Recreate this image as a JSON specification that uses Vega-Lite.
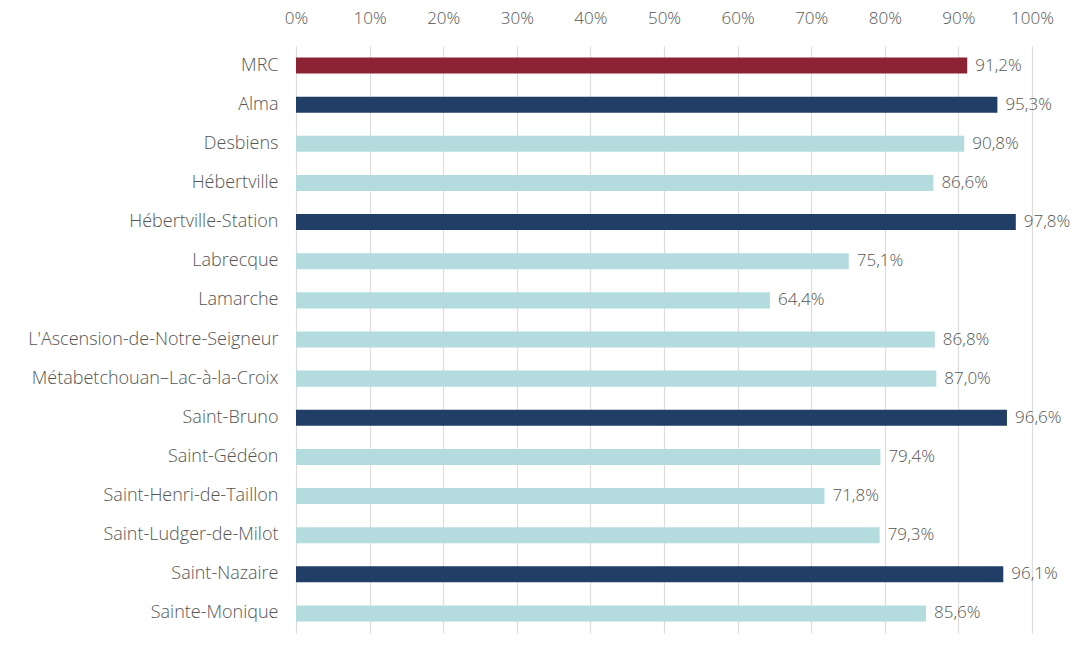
{
  "$schema": "https://vega.github.io/schema/vega-lite/v6.json",
  "width": 736,
  "height": 587,
  "autosize": {"type": "none"},
  "padding": {"left": 296, "top": 46, "right": 41, "bottom": 12},
  "background": "white",
  "config": {
    "view": {"stroke": null},
    "font": "Open Sans",
    "axis": {"labelFont": "Open Sans", "labelFontWeight": 300, "labelColor": "#555555"}
  },
  "data": {
    "values": [
      {"nom": "MRC", "taux": 0.912, "groupe": "MRC", "lib": "91,2%"},
      {"nom": "Alma", "taux": 0.953, "groupe": "haut", "lib": "95,3%"},
      {"nom": "Desbiens", "taux": 0.908, "groupe": "bas", "lib": "90,8%"},
      {"nom": "Hébertville", "taux": 0.866, "groupe": "bas", "lib": "86,6%"},
      {"nom": "Hébertville-Station", "taux": 0.978, "groupe": "haut", "lib": "97,8%"},
      {"nom": "Labrecque", "taux": 0.751, "groupe": "bas", "lib": "75,1%"},
      {"nom": "Lamarche", "taux": 0.644, "groupe": "bas", "lib": "64,4%"},
      {"nom": "L'Ascension-de-Notre-Seigneur", "taux": 0.868, "groupe": "bas", "lib": "86,8%"},
      {"nom": "Métabetchouan–Lac-à-la-Croix", "taux": 0.870, "groupe": "bas", "lib": "87,0%"},
      {"nom": "Saint-Bruno", "taux": 0.966, "groupe": "haut", "lib": "96,6%"},
      {"nom": "Saint-Gédéon", "taux": 0.794, "groupe": "bas", "lib": "79,4%"},
      {"nom": "Saint-Henri-de-Taillon", "taux": 0.718, "groupe": "bas", "lib": "71,8%"},
      {"nom": "Saint-Ludger-de-Milot", "taux": 0.793, "groupe": "bas", "lib": "79,3%"},
      {"nom": "Saint-Nazaire", "taux": 0.961, "groupe": "haut", "lib": "96,1%"},
      {"nom": "Sainte-Monique", "taux": 0.856, "groupe": "bas", "lib": "85,6%"}
    ]
  },
  "encoding": {
    "y": {
      "field": "nom", "type": "nominal", "sort": null, "title": null,
      "scale": {"paddingInner": 0.59, "paddingOuter": 0.295},
      "axis": {"domain": false, "ticks": false, "labelPadding": 18, "labelFontSize": 18, "labelLimit": 400}
    },
    "x": {
      "field": "taux", "type": "quantitative", "title": null,
      "scale": {"domain": [0, 1], "nice": false},
      "axis": {"orient": "top", "format": ".0%", "values": [0,0.1,0.2,0.3,0.4,0.5,0.6,0.7,0.8,0.9,1], "domain": false, "ticks": false, "labelPadding": 19, "labelFontSize": 17, "gridColor": "#dddddd", "gridWidth": 1.2, "labelFlush": false}
    }
  },
  "layer": [
    {
      "mark": {"type": "bar"},
      "encoding": {
        "color": {"field": "groupe", "type": "nominal", "legend": null,
          "scale": {"domain": ["MRC", "haut", "bas"], "range": ["#8c2334", "#213f66", "#b4dcde"]}}
      }
    },
    {
      "mark": {"type": "text", "align": "left", "baseline": "middle", "dx": 8, "fontSize": 17, "fontWeight": 300, "color": "#555555", "font": "Open Sans"},
      "encoding": {"text": {"field": "lib"}}
    }
  ]
}
